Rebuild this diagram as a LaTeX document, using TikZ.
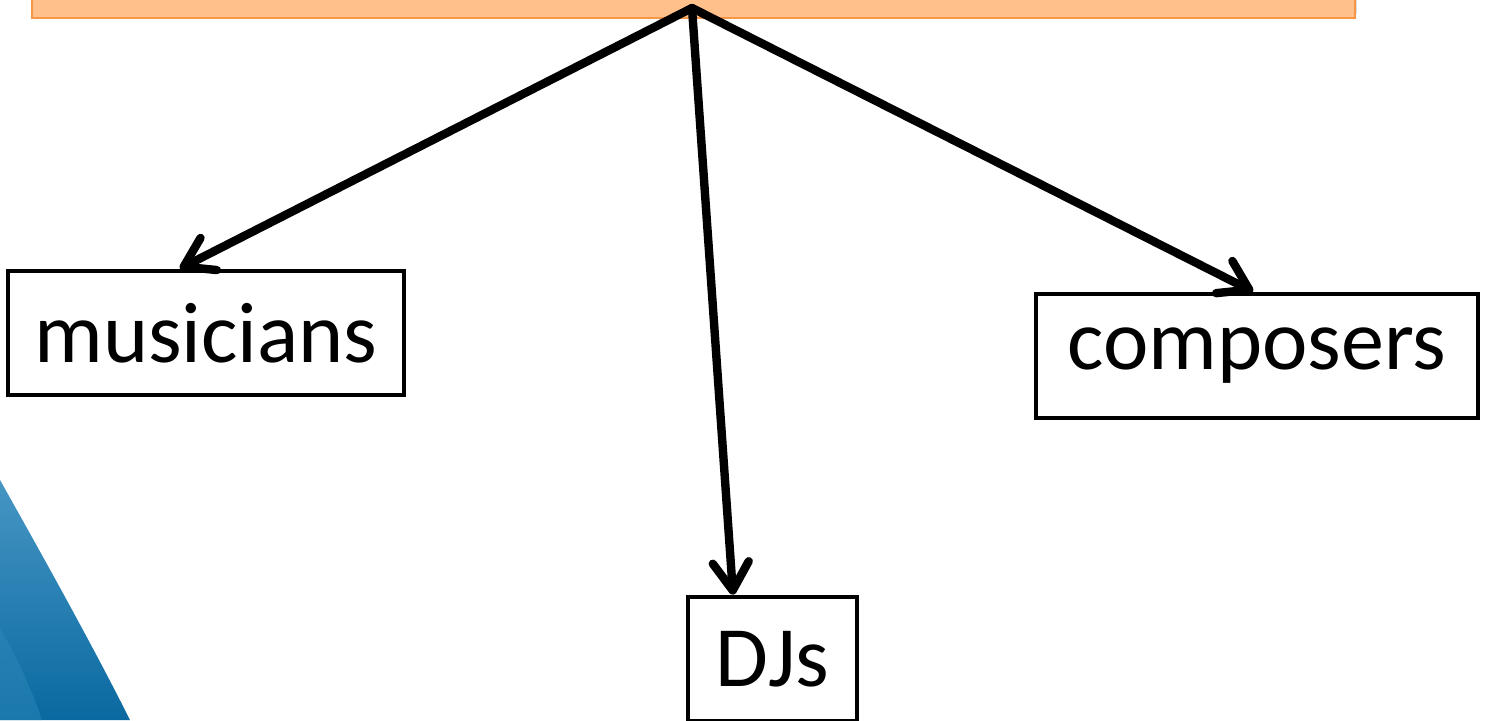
\documentclass[tikz,border=0pt]{standalone}
\usepackage{fontspec}
\setmainfont{Carlito}
\usetikzlibrary{arrows.meta,calc}
\definecolor{orfill}{RGB}{255,192,140}
\definecolor{ordraw}{RGB}{247,150,70}
\definecolor{bluetop}{RGB}{70,150,196}
\definecolor{bluebot}{RGB}{10,105,160}
\definecolor{bluelight}{RGB}{45,135,185}
\tikzset{
  catbox/.style={draw=black, line width=2.4pt, fill=white, inner sep=0pt, font=\fontsize{43pt}{50pt}\selectfont, minimum height=62pt},
  arr/.style={line width=4.2pt, -{Straight Barb[length=14pt,width=18pt,round]}, line cap=round}
}
\begin{document}
\begin{tikzpicture}[x=0.5pt,y=-0.5pt]
\useasboundingbox (0,0) rectangle (1486,720);
% blue decoration
\shade[top color=bluetop, bottom color=bluebot] (0,480) .. controls (45,560) and (95,650) .. (130,720) -- (0,720) -- cycle;
\fill[bluelight, opacity=0.5] (0,628) .. controls (18,660) and (32,690) .. (42,720) -- (0,720) -- cycle;
% top orange box with shadow
\fill[black!20, opacity=0.7] (33,-20) rectangle (1357,14);
\node[draw=ordraw, fill=orfill, line width=1.4pt, minimum width=661.5pt, minimum height=20pt, inner sep=0pt] (top) at (693.5,-2) {};
\coordinate (src) at (692,8);
% category boxes
\node[catbox, minimum width=198pt] (mus) at (206,333) {musicians};
\node[catbox, minimum width=221pt] (comp) at (1257,356) {composers};
\node[catbox, minimum width=84.5pt] (dj) at (772.5,659) {DJs};
% arrows
\draw[arr] (src) -- ([xshift=-13pt]mus.north);
\draw[arr] (src) -- ([xshift=-2pt]comp.north);
\draw[arr] (src) -- ([xshift=-19.75pt]dj.north);
\end{tikzpicture}
\end{document}
